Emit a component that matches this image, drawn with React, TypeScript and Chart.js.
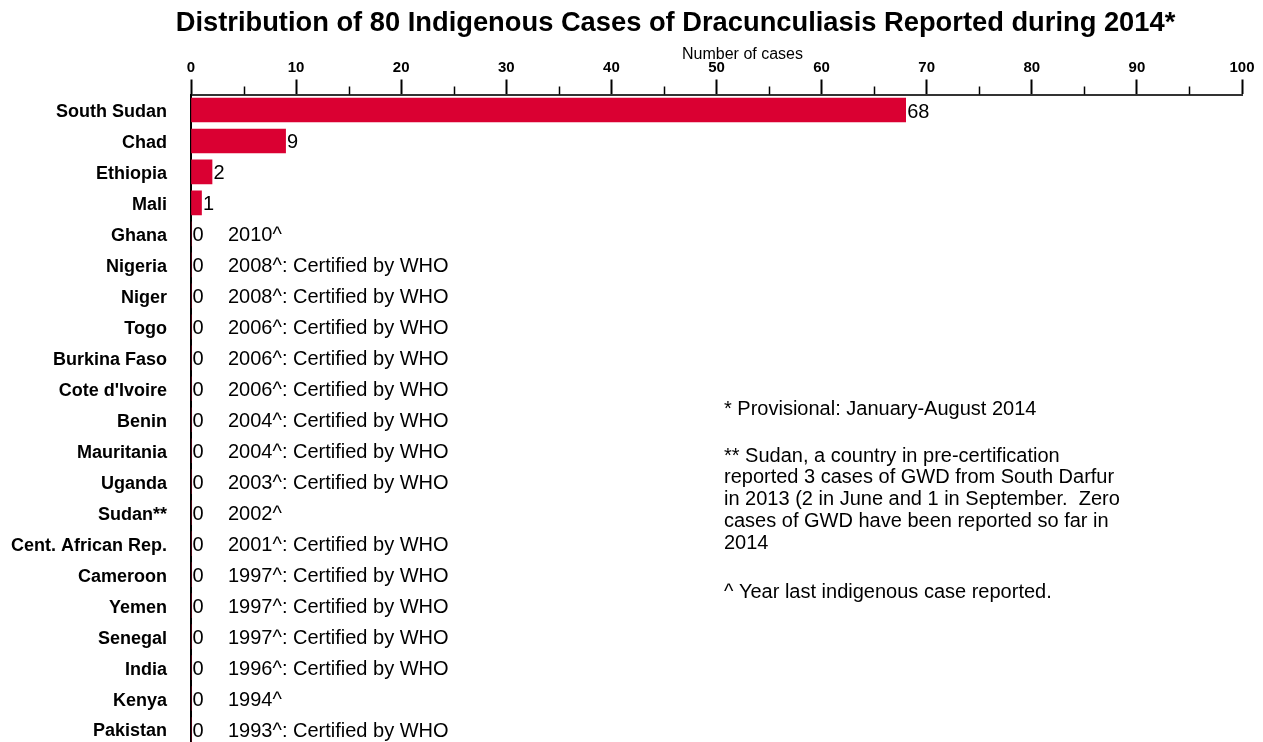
import React, { useEffect, useRef } from 'react';
import { Chart, registerables } from 'chart.js';

Chart.register(...registerables);

const FONT = '"Liberation Sans", Arial, Helvetica, sans-serif';

const chartTitle = 'Distribution of 80 Indigenous Cases of Dracunculiasis Reported during 2014*';
const axisTitle = 'Number of cases';

const countries = [
  'South Sudan', 'Chad', 'Ethiopia', 'Mali', 'Ghana', 'Nigeria', 'Niger', 'Togo',
  'Burkina Faso', "Cote d'Ivoire", 'Benin', 'Mauritania', 'Uganda', 'Sudan**',
  'Cent. African Rep.', 'Cameroon', 'Yemen', 'Senegal', 'India', 'Kenya', 'Pakistan',
];

const cases = [68, 9, 2, 1, 0, 0, 0, 0, 0, 0, 0, 0, 0, 0, 0, 0, 0, 0, 0, 0, 0];

const yearNotes = [
  '', '', '', '', '2010^',
  '2008^: Certified by WHO', '2008^: Certified by WHO', '2006^: Certified by WHO',
  '2006^: Certified by WHO', '2006^: Certified by WHO', '2004^: Certified by WHO',
  '2004^: Certified by WHO', '2003^: Certified by WHO', '2002^',
  '2001^: Certified by WHO', '1997^: Certified by WHO', '1997^: Certified by WHO',
  '1997^: Certified by WHO', '1996^: Certified by WHO', '1994^', '1993^: Certified by WHO',
];

const xMin = 0;
const xMax = 100;
const majorStep = 10;
const minorTicks = [5, 15, 25, 35, 45, 55, 65, 75, 85, 95];

const footnoteProvisional = ['* Provisional: January-August 2014'];
const footnoteSudan = [
  '** Sudan, a country in pre-certification',
  'reported 3 cases of GWD from South Darfur',
  'in 2013 (2 in June and 1 in September.  Zero',
  'cases of GWD have been reported so far in',
  '2014',
];
const footnoteCaret = ['^ Year last indigenous case reported.'];

const BAR_COLOR = '#DA0032';

const extrasPlugin = {
  id: 'extras',
  afterDatasetsDraw(chart: any) {
    const ctx = chart.ctx;
    const meta = chart.getDatasetMeta(0);
    const xs = chart.scales.x;
    ctx.save();
    ctx.fillStyle = '#000';
    ctx.textBaseline = 'middle';
    ctx.textAlign = 'left';
    meta.data.forEach((bar: any, i: number) => {
      const y = bar.y + 2;
      ctx.font = `20px ${FONT}`;
      ctx.fillText(String(cases[i]), bar.x + 1.5, y);
      if (yearNotes[i]) {
        ctx.font = `20px ${FONT}`;
        ctx.fillText(yearNotes[i], xs.getPixelForValue(0) + 37, y);
      }
    });
    ctx.restore();
  },
  afterDraw(chart: any) {
    const ctx = chart.ctx;
    const xs = chart.scales.x;
    const top = chart.chartArea.top;
    ctx.save();
    // minor ticks
    ctx.strokeStyle = '#000';
    ctx.lineWidth = 1.5;
    minorTicks.forEach((v) => {
      const px = Math.round(xs.getPixelForValue(v)) + 0.5;
      ctx.beginPath();
      ctx.moveTo(px, top - 8);
      ctx.lineTo(px, top);
      ctx.stroke();
    });
    // title
    ctx.fillStyle = '#000';
    ctx.textBaseline = 'middle';
    ctx.textAlign = 'center';
    ctx.font = `bold 27.3px ${FONT}`;
    ctx.fillText(chartTitle, 675.5, 23);
    // axis title
    ctx.font = `16px ${FONT}`;
    ctx.fillText(axisTitle, 742.5, 55);
    // footnotes
    ctx.textAlign = 'left';
    ctx.font = `20px ${FONT}`;
    const fx = 724;
    footnoteProvisional.forEach((t, i) => ctx.fillText(t, fx, 409 + i * 21.75));
    footnoteSudan.forEach((t, i) => ctx.fillText(t, fx, 456 + i * 21.75));
    footnoteCaret.forEach((t, i) => ctx.fillText(t, fx, 592 + i * 21.75));
    ctx.restore();
  },
};

export default function App() {
  const canvasRef = useRef<HTMLCanvasElement | null>(null);

  useEffect(() => {
    if (!canvasRef.current) return;
    const chart = new Chart(canvasRef.current, {
      type: 'bar',
      data: {
        labels: countries,
        datasets: [
          {
            data: cases,
            backgroundColor: BAR_COLOR,
            borderWidth: 0,
            barThickness: 24,
          },
        ],
      },
      options: {
        indexAxis: 'y',
        animation: false,
        responsive: false,
        devicePixelRatio: 1,
        layout: { padding: { left: 0, right: 21, top: 0, bottom: 0 } },
        plugins: {
          legend: { display: false },
          tooltip: { enabled: false },
          title: { display: false },
        },
        scales: {
          x: {
            type: 'linear',
            position: 'top',
            min: xMin,
            max: xMax,
            afterFit(scale: any) {
              scale.height = 94.5;
              scale.paddingLeft = 0;
              scale.paddingRight = 0;
            },
            ticks: {
              stepSize: majorStep,
              color: '#000',
              font: { family: FONT, size: 15, weight: 'bold' },
              padding: 3,
              maxRotation: 0,
            },
            grid: {
              display: true,
              drawOnChartArea: false,
              drawTicks: true,
              tickLength: 15,
              tickWidth: 2,
              tickColor: '#000',
            },
            border: { display: true, color: '#333', width: 2 },
          },
          y: {
            type: 'category',
            afterFit(scale: any) {
              scale.width = 191;
              scale.paddingTop = 0;
              scale.paddingBottom = 0;
            },
            ticks: {
              color: '#000',
              font: { family: FONT, size: 18, weight: 'bold' },
              padding: 24,
              labelOffset: 2,
              autoSkip: false,
            },
            grid: { display: false, drawTicks: false },
            border: { display: true, color: '#000', width: 2 },
          },
        },
      },
      plugins: [extrasPlugin],
    });
    return () => chart.destroy();
  }, []);

  return (
    <div
      style={{
        position: 'fixed',
        left: 0,
        top: 0,
        width: 1263,
        height: 742,
        overflow: 'hidden',
        background: '#fff',
      }}
    >
      <canvas ref={canvasRef} width={1263} height={745} style={{ display: 'block' }} />
    </div>
  );
}
